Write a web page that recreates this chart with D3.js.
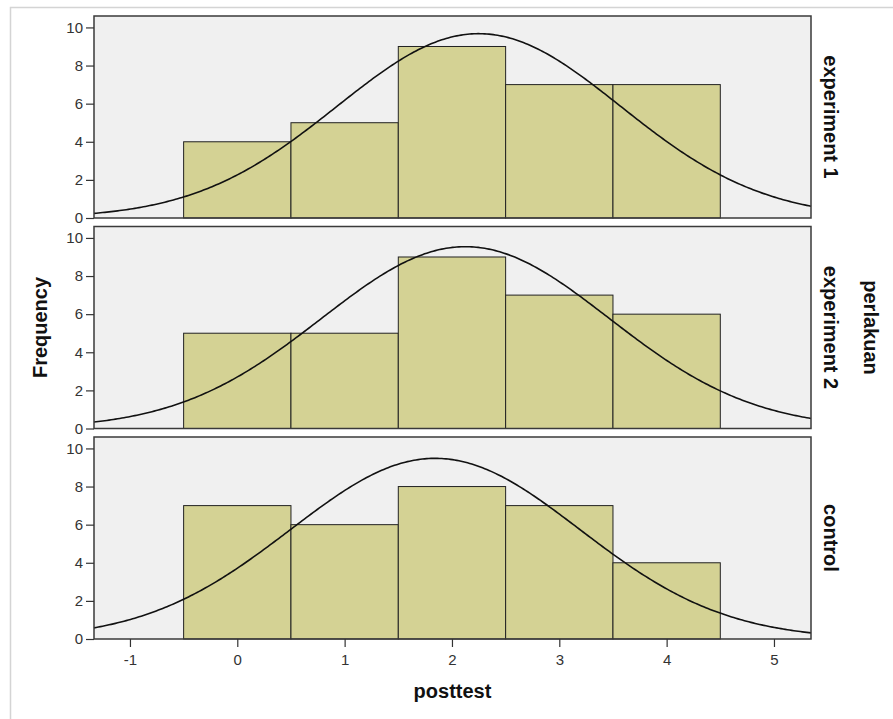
<!DOCTYPE html>
<html>
<head>
<meta charset="utf-8">
<script src="https://cdn.jsdelivr.net/npm/d3@7"></script>
<style>
  body { margin: 0; background: #fff; }
  text { font-family: "Liberation Sans", Arial, sans-serif; }
</style>
</head>
<body>
<div id="chart"></div>
<script>
// 1. SETUP
const width = 893;
const height = 719;

// Data: one histogram per group (bins centred on 0..4)
const groups = ["experiment 1", "experiment 2", "control"];
const binCenters = [0, 1, 2, 3, 4];
const countsExp1 = [4, 5, 9, 7, 7];
const countsExp2 = [5, 5, 9, 7, 6];
const countsControl = [7, 6, 8, 7, 4];
const counts = [countsExp1, countsExp2, countsControl];
const yTicks = [0, 2, 4, 6, 8, 10];
const xTicks = [-1, 0, 1, 2, 3, 4, 5];

const plotLeft = 94, plotRight = 811;
const plotTop = 16, plotBottom = 639;
const gap = 8.5;
const panelH = (plotBottom - plotTop - 2 * gap) / 3;

const svg = d3.select("#chart")
    .append("svg")
    .attr("width", width)
    .attr("height", height);

// outer frame
svg.append("rect")
    .attr("x", 10.5).attr("y", 7.5)
    .attr("width", 920).attr("height", 800)
    .attr("fill", "#fff").attr("stroke", "#d4d4d4").attr("stroke-width", 1.5);

const x = d3.scaleLinear().domain([-1.335, 5.345]).range([plotLeft, plotRight]);
const y = d3.scaleLinear().domain([0, 10.6]).range([panelH, 0]);

const barFill = "#d4d294";

// 2. PANELS
groups.forEach((g, i) => {
    const data = counts[i];
    const top = plotTop + i * (panelH + gap);
    const panel = svg.append("g").attr("transform", `translate(0,${top})`);

    panel.append("rect")
        .attr("x", plotLeft).attr("y", 0)
        .attr("width", plotRight - plotLeft).attr("height", panelH)
        .attr("fill", "#f0f0f0");

    // bars
    panel.selectAll(".bar").data(binCenters).join("rect")
        .attr("class", "bar")
        .attr("x", d => x(d - 0.5))
        .attr("width", d => x(d + 0.5) - x(d - 0.5))
        .attr("y", (d, j) => y(data[j]))
        .attr("height", (d, j) => y(0) - y(data[j]))
        .attr("fill", barFill)
        .attr("stroke", "#222").attr("stroke-width", 1);

    // fitted normal curve (mean / sd of the histogram values)
    const values = binCenters.flatMap((c, j) => d3.range(data[j]).map(() => c));
    const n = values.length;
    const mean = d3.mean(values);
    const sd = d3.deviation(values);
    const xs = d3.range(x.domain()[0], x.domain()[1] + 0.001, 0.02);
    const curve = d3.line()
        .x(d => x(d))
        .y(d => y(n / (sd * Math.sqrt(2 * Math.PI)) * Math.exp(-0.5 * ((d - mean) / sd) ** 2)));
    panel.append("path")
        .attr("d", curve(xs))
        .attr("fill", "none").attr("stroke", "#111").attr("stroke-width", 1.6);

    // panel border
    panel.append("rect")
        .attr("x", plotLeft).attr("y", 0)
        .attr("width", plotRight - plotLeft).attr("height", panelH)
        .attr("fill", "none").attr("stroke", "#3a3a3a").attr("stroke-width", 1.5);

    // y axis
    const yAxis = panel.append("g")
        .attr("transform", `translate(${plotLeft},0)`)
        .call(d3.axisLeft(y).tickValues(yTicks).tickSize(8).tickPadding(3).tickSizeOuter(0));
    yAxis.select(".domain").remove();
    yAxis.selectAll("line").attr("stroke", "#333").attr("stroke-width", 1.2);
    yAxis.selectAll("text").attr("fill", "#333").style("font-size", "15px");

    // group label on the right
    panel.append("text")
        .attr("transform", `translate(824,${panelH / 2}) rotate(90)`)
        .attr("text-anchor", "middle")
        .style("font-size", "20px").style("font-weight", "bold").attr("fill", "#111")
        .text(g);
});

// x axis
const xAxis = svg.append("g")
    .attr("transform", `translate(0,${plotBottom})`)
    .call(d3.axisBottom(x).tickValues(xTicks).tickFormat(d => String(d))
        .tickSize(8).tickPadding(7).tickSizeOuter(0));
xAxis.select(".domain").remove();
xAxis.selectAll("line").attr("stroke", "#333").attr("stroke-width", 1.2);
xAxis.selectAll("text").attr("fill", "#333").style("font-size", "15px");

// axis titles
svg.append("text")
    .attr("x", (plotLeft + plotRight) / 2).attr("y", 698)
    .attr("text-anchor", "middle")
    .style("font-size", "20px").style("font-weight", "bold").attr("fill", "#111")
    .text("posttest");

svg.append("text")
    .attr("transform", `translate(47,${(plotTop + plotBottom) / 2}) rotate(-90)`)
    .attr("text-anchor", "middle")
    .style("font-size", "20px").style("font-weight", "bold").attr("fill", "#111")
    .text("Frequency");

svg.append("text")
    .attr("transform", `translate(864,${(plotTop + plotBottom) / 2}) rotate(90)`)
    .attr("text-anchor", "middle")
    .style("font-size", "20px").style("font-weight", "bold").attr("fill", "#111")
    .text("perlakuan");
</script>
</body>
</html>
